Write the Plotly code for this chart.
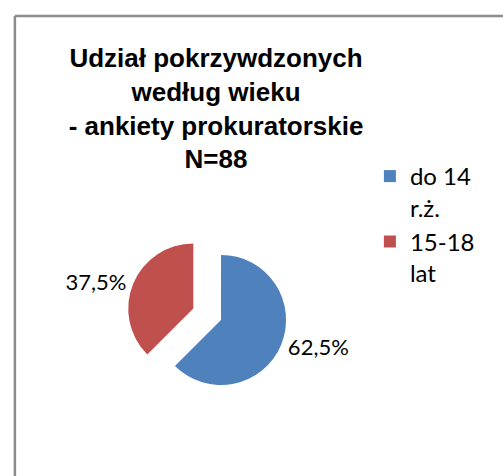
import plotly.graph_objects as go

labels = ["do 14<br>r.ż.", "15-18<br>lat"]
values = [62.5, 37.5]
colors = ["#4F81BD", "#C0504D"]
pulls = [0, 0.46]
title_text = "Udział pokrzywdzonych<br>według wieku<br>- ankiety prokuratorskie<br>N=88"

W, H = 503, 476

def px(x):
    return x / W

def py(y):
    return 1 - y / H

cx, cy, r = 217, 320, 66
half = r * (1 + max(pulls))

fig = go.Figure(
    go.Pie(
        labels=labels,
        values=values,
        pull=pulls,
        sort=False,
        direction="clockwise",
        rotation=0,
        marker=dict(colors=colors, line=dict(width=0)),
        texttemplate="%{percent:.1%}",
        textposition="outside",
        textfont=dict(family="Lato, Open Sans, sans-serif", size=22, color="#000000"),
        domain=dict(x=[px(cx - half), px(cx + half)], y=[py(cy + half), py(cy - half)]),
    )
)

fig.update_layout(
    width=W,
    height=H,
    margin=dict(l=0, r=0, t=0, b=0),
    paper_bgcolor="white",
    separators=", ",
    title=dict(
        text=title_text,
        x=px(212),
        xanchor="center",
        xref="paper",
        y=py(67),
        yanchor="top",
        yref="container",
        font=dict(family="Liberation Sans, Arial, sans-serif", size=26, color="#000000", weight="bold"),
    ),
    legend=dict(
        x=px(368),
        y=py(154),
        xanchor="left",
        yanchor="top",
        valign="top",
        font=dict(family="Lato, Open Sans, sans-serif", size=24, color="#000000"),
        bgcolor="rgba(0,0,0,0)",
    ),
    shapes=[
        dict(type="line", xref="paper", yref="paper", x0=px(8), x1=1, y0=py(16), y1=py(16), line=dict(color="#8C8C8C", width=2.5)),
        dict(type="line", xref="paper", yref="paper", x0=px(8), x1=px(8), y0=0, y1=py(16), line=dict(color="#8C8C8C", width=2.5)),
    ],
)

fig.write_html(
    "out.html",
    config={"displayModeBar": False},
    post_script="document.body.style.margin='0';document.body.style.overflow='hidden';",
)
